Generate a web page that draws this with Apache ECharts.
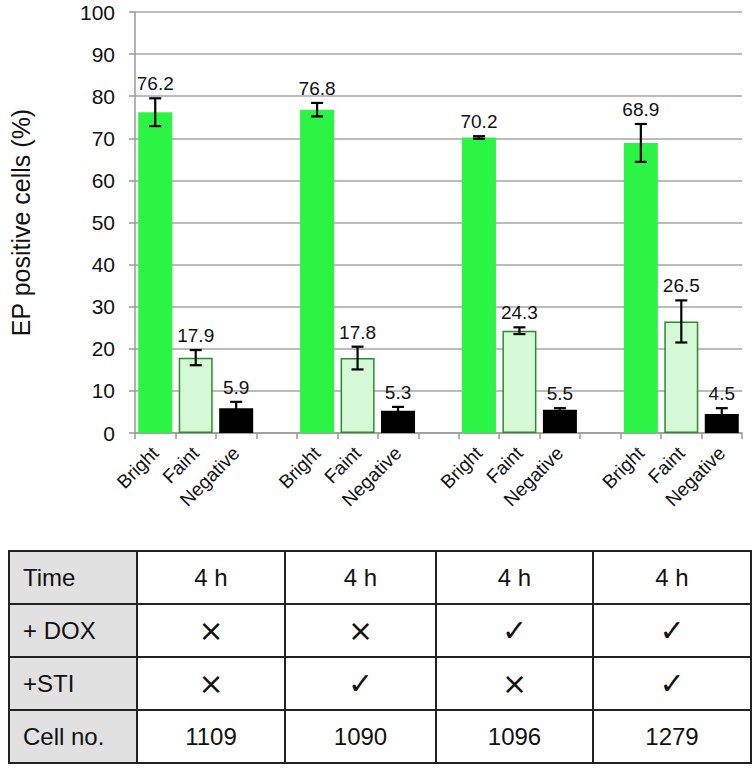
<!DOCTYPE html>
<html>
<head>
<meta charset="utf-8">
<script src="https://cdn.jsdelivr.net/npm/echarts@6/dist/echarts.min.js"></script>
<style>
  html, body { margin: 0; padding: 0; background: #fff; }
  #chart { position: absolute; left: 0; top: 0; width: 756px; height: 776px; }
  #tbl { position: absolute; left: 8px; top: 550px; border-collapse: collapse; font-family: "Liberation Sans", Arial, Helvetica, sans-serif; font-size: 24px; color: #111; }
  #tbl td { border: 2px solid #222; height: 51px; padding: 0; text-align: center; vertical-align: middle; }
  #tbl td.hd { background: #e1e1e1; text-align: left; padding-left: 13px; }
  #tbl td.sym { font-family: "DejaVu Sans", sans-serif; font-size: 30px; }
</style>
</head>
<body>
<div id="chart"></div>
<table id="tbl"></table>
<script>
// ---- data ----
const groupLabels = ['Bright', 'Faint', 'Negative'];
const bright = [76.2, 76.8, 70.2, 68.9];
const faint = [17.9, 17.8, 24.3, 26.5];
const negative = [5.9, 5.3, 5.5, 4.5];
const brightErr = [3.3, 1.6, 0.3, 4.5];
const faintErr = [1.8, 2.7, 0.8, 5.0];
const negativeErr = [1.5, 0.9, 0.4, 1.4];
const yTicks = [0, 10, 20, 30, 40, 50, 60, 70, 80, 90, 100];

const rowNames = ['Time', '+ DOX', '+STI', 'Cell no.'];
const timeRow = ['4 h', '4 h', '4 h', '4 h'];
const doxRow = ['×', '×', '✓', '✓'];
const stiRow = ['×', '✓', '×', '✓'];
const cellNoRow = ['1109', '1090', '1096', '1279'];

// ---- build categories / series ----
const series3 = [bright, faint, negative];
const errs3 = [brightErr, faintErr, negativeErr];
const styles = [
  { color: '#2cf444' },
  { color: '#d5f8d6', borderColor: '#2b8c2b', borderWidth: 1.5 },
  { color: '#000000' }
];
const categories = [];
const barData = [];
const errData = [];
for (let g = 0; g < bright.length; g++) {
  for (let k = 0; k < 3; k++) {
    const idx = categories.length;
    categories.push(groupLabels[k]);
    barData.push({ value: series3[k][g], itemStyle: styles[k] });
    errData.push([idx, series3[k][g], errs3[k][g]]);
  }
  if (g < bright.length - 1) {
    categories.push('');
    barData.push('-');
  }
}

const FONT = 'Liberation Sans, Arial, sans-serif';
const chart = echarts.init(document.getElementById('chart'), null, { renderer: 'svg' });
chart.setOption({
  animation: false,
  grid: { left: 133, right: 14, top: 12, bottom: 343, containLabel: false },
  xAxis: {
    type: 'category',
    data: categories,
    axisLine: { lineStyle: { color: '#9a9a9a', width: 1.5 } },
    axisTick: { show: true, alignWithLabel: false, length: 6, lineStyle: { color: '#9a9a9a', width: 1.5 } },
    axisLabel: {
      interval: 0, rotate: 45, margin: 17,
      fontFamily: FONT, fontSize: 19, color: '#111'
    }
  },
  yAxis: {
    type: 'value', min: yTicks[0], max: yTicks[yTicks.length - 1], interval: 10,
    name: 'EP positive cells (%)', nameLocation: 'middle', nameGap: 102,
    nameTextStyle: { fontFamily: FONT, fontSize: 25, color: '#111' },
    axisLine: { show: true, lineStyle: { color: '#9a9a9a', width: 1.5 } },
    axisTick: { show: true, length: 6, lineStyle: { color: '#9a9a9a', width: 1.5 } },
    axisLabel: { margin: 20, fontFamily: FONT, fontSize: 21, color: '#111' },
    splitLine: { show: true, lineStyle: { color: '#a6a6a6', width: 1.5 } }
  },
  series: [
    {
      type: 'bar',
      data: barData,
      barWidth: 34,
      z: 2
    },
    {
      type: 'custom',
      data: errData,
      z: 5,
      renderItem: function (params, api) {
        const x = api.value(0), v = api.value(1), e = api.value(2);
        const top = api.coord([x, v + e]);
        const bot = api.coord([x, v - e]);
        const hw = 6;
        const lineStyle = { stroke: '#000', lineWidth: 2.2 };
        return {
          type: 'group',
          children: [
            { type: 'line', shape: { x1: top[0], y1: top[1], x2: bot[0], y2: bot[1] }, style: lineStyle },
            { type: 'line', shape: { x1: top[0] - hw, y1: top[1], x2: top[0] + hw, y2: top[1] }, style: lineStyle },
            { type: 'line', shape: { x1: bot[0] - hw, y1: bot[1], x2: bot[0] + hw, y2: bot[1] }, style: lineStyle },
            { type: 'text', x: top[0], y: top[1] - 5,
              style: { text: v.toFixed(1), fill: '#111', fontSize: 19,
                       fontFamily: FONT,
                       align: 'center', verticalAlign: 'bottom' } }
          ]
        };
      }
    }
  ]
});

// ---- table ----
const colWidths = [128, 148, 151, 157, 158];
const rows = [timeRow, doxRow, stiRow, cellNoRow];
const tbl = document.getElementById('tbl');
rows.forEach(function (r, ri) {
  const tr = document.createElement('tr');
  const th = document.createElement('td');
  th.className = 'hd';
  th.textContent = rowNames[ri];
  th.style.width = (colWidths[0] - 15) + 'px';
  tr.appendChild(th);
  r.forEach(function (v, ci) {
    const td = document.createElement('td');
    td.textContent = v;
    td.style.width = (colWidths[ci + 1] - 2) + 'px';
    if (ri === 1 || ri === 2) td.className = 'sym';
    tr.appendChild(td);
  });
  tbl.appendChild(tr);
});
</script>
</body>
</html>
